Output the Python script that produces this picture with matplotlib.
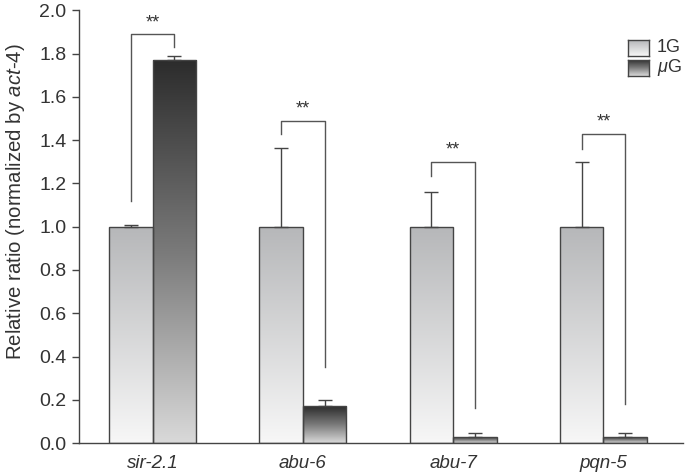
import numpy as np
import matplotlib.pyplot as plt
from matplotlib.colors import LinearSegmentedColormap

plt.rcParams['font.family'] = ['Liberation Sans', 'DejaVu Sans']
plt.rcParams['mathtext.fontset'] = 'custom'
plt.rcParams['mathtext.rm'] = 'Liberation Sans'
plt.rcParams['mathtext.it'] = 'Liberation Sans:italic'

genes = ['sir-2.1', 'abu-6', 'abu-7', 'pqn-5']
ratio_1g = [1.0, 1.0, 1.0, 1.0]
err_1g = [0.01, 0.365, 0.16, 0.30]
ratio_ug = [1.77, 0.17, 0.03, 0.03]
err_ug = [0.02, 0.03, 0.015, 0.015]

# significance brackets: top height, left leg end, right leg end
brk_top = [1.89, 1.49, 1.30, 1.43]
brk_left = [1.12, 1.43, 1.235, 1.36]
brk_right = [1.83, 0.35, 0.16, 0.18]
brk_text = ['**', '**', '**', '**']

cmap_1g = LinearSegmentedColormap.from_list('g1', ['#f7f7f7', '#b6b7b9'])
cmap_ug = LinearSegmentedColormap.from_list('ug', ['#d9d9d9', '#7a7a7a', '#2c2c2c'])

edge = '#444444'
txt = '#333333'
width = 0.29
x = np.arange(len(genes))

fig = plt.figure(figsize=(6.85, 4.73), dpi=100)
ax = fig.add_axes([79 / 685, 1 - 443 / 473, 604 / 685, 432.5 / 473])


def grad_bar(ax, xc, h, cmap):
    bars = ax.bar(xc, h, width, color='none', edgecolor=edge, linewidth=1.0, zorder=3)
    for b in bars:
        grad = np.linspace(0, 1, 256).reshape(-1, 1)
        im = ax.imshow(grad, cmap=cmap, origin='lower', aspect='auto',
                       extent=[b.get_x(), b.get_x() + b.get_width(), 0, b.get_height()],
                       zorder=2, interpolation='bilinear')
        im.set_clip_path(b)
    return bars


grad_bar(ax, x - width / 2, ratio_1g, cmap_1g)
grad_bar(ax, x + width / 2, ratio_ug, cmap_ug)

ax.errorbar(x - width / 2, ratio_1g, yerr=[np.zeros(4), err_1g], fmt='none',
            ecolor=edge, elinewidth=1.0, capsize=5, capthick=1.0, zorder=4)
ax.errorbar(x + width / 2, ratio_ug, yerr=[np.zeros(4), err_ug], fmt='none',
            ecolor=edge, elinewidth=1.0, capsize=5, capthick=1.0, zorder=4)

for i in range(len(genes)):
    xl = x[i] - width / 2
    xr = x[i] + width / 2
    ax.plot([xl, xl, xr, xr], [brk_left[i], brk_top[i], brk_top[i], brk_right[i]],
            color='#555555', lw=1.0, zorder=4)
    ax.text(x[i], brk_top[i] + 0.015, brk_text[i], ha='center', va='bottom',
            fontsize=13, color=txt)

ax.set_xlim(-0.49, 3.53)
ax.set_ylim(0, 2.0)
ax.set_yticks(np.arange(0, 2.01, 0.2))
ax.set_yticklabels(['%.1f' % v for v in np.arange(0, 2.01, 0.2)], fontsize=14, color=txt)
ax.set_xticks(x)
ax.set_xticklabels(genes, fontsize=13.5, style='italic', color=txt)
ax.tick_params(axis='x', length=0, pad=9)
ax.tick_params(axis='y', direction='out', length=5, color=edge, width=1.0, pad=4)
for s in ['top', 'right']:
    ax.spines[s].set_visible(False)
for s in ['left', 'bottom']:
    ax.spines[s].set_color(edge)
    ax.spines[s].set_linewidth(1.0)

ax.set_ylabel('Relative ratio (normalized by $\\it{act}$-$\\it{4}$)', fontsize=14.7, color=txt)
ax.yaxis.set_label_coords(-0.086, 0.557)

# legend with gradient swatches
legend_items = [('1G', cmap_1g), ('$\\mathit{\\mu}$G', cmap_ug)]
for k, (lab, cm) in enumerate(legend_items):
    top_px = 40 + 20 * k
    lax = fig.add_axes([628 / 685, 1 - (top_px + 16) / 473, 21 / 685, 16 / 473])
    lax.imshow(np.linspace(0, 1, 64).reshape(-1, 1), cmap=cm, origin='lower', aspect='auto')
    lax.set_xticks([])
    lax.set_yticks([])
    for sp in lax.spines.values():
        sp.set_color(edge)
        sp.set_linewidth(1.0)
    fig.text(657 / 685, 1 - (top_px + 8) / 473, lab, fontsize=13, va='center', color=txt)

fig.savefig('out.png', dpi=100)
